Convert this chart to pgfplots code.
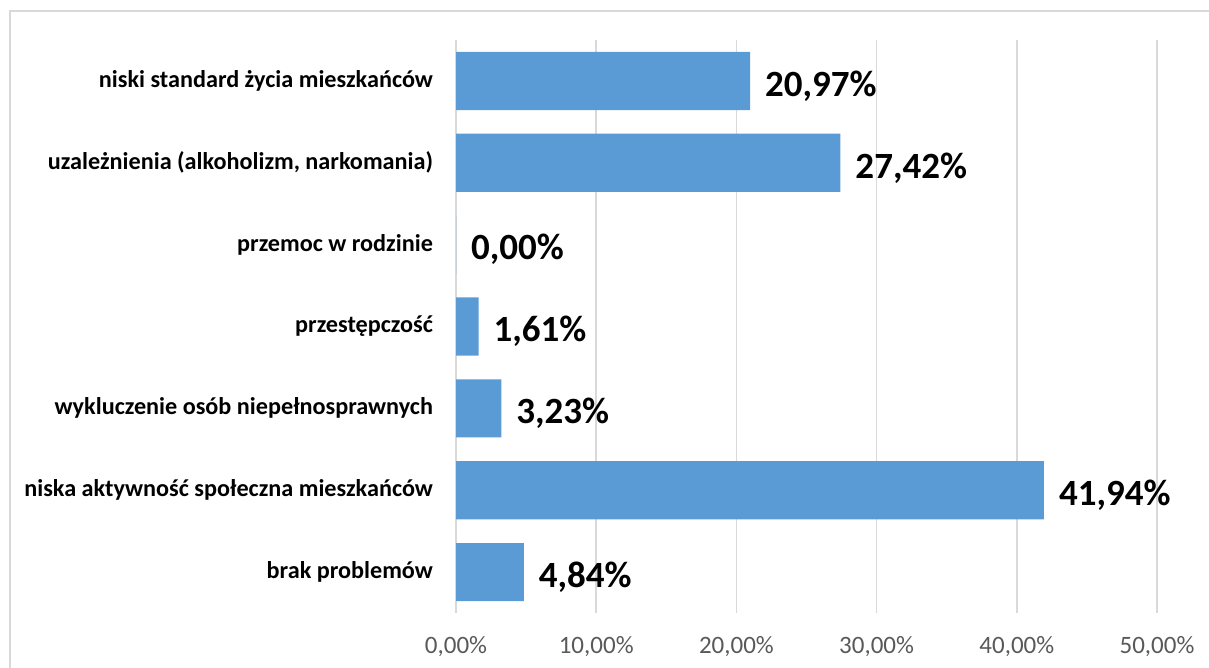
\documentclass[border=0pt]{standalone}
\usepackage{pgfplots}
\pgfplotsset{compat=1.18}
\usepackage{fontspec}
\setmainfont{Carlito}
\definecolor{barblue}{HTML}{5B9BD5}
\definecolor{gridgray}{HTML}{D9D9D9}
\definecolor{ticktext}{HTML}{595959}
\begin{document}
\begin{tikzpicture}
\useasboundingbox (0,0) rectangle (604.5pt,334pt);
\draw[gridgray, line width=0.8pt] (5pt,-5pt) -- (5pt,328.5pt) -- (610pt,328.5pt);
\begin{axis}[
  at={(228pt,27.5pt)}, anchor=south west,
  scale only axis, width=350.5pt, height=286.5pt,
  xbar, bar width=0.71,
  xmin=0, xmax=50,
  ymin=-0.5, ymax=6.5, y dir=reverse,
  xtick={0,10,20,30,40,50},
  ytick={0,1,2,3,4,5,6},
  yticklabels={niski standard życia mieszkańców, uzależnienia (alkoholizm{,} narkomania), przemoc w rodzinie, przestępczość, wykluczenie osób niepełnosprawnych, niska aktywność społeczna mieszkańców, brak problemów},
  xmajorgrids, grid style={gridgray, line width=0.8pt},
  axis line style={draw=none},
  major tick length=0pt,
  /pgf/number format/assume math mode=true,
  xticklabel={\pgfmathprintnumber[fixed, fixed zerofill, precision=2, use comma]{\tick}\%},
  xticklabel style={font=\fontsize{12.5}{15}\selectfont, text=ticktext, yshift=-8pt},
  yticklabel style={font=\bfseries\fontsize{12.1}{14}\selectfont, text=black, xshift=-8pt},
  nodes near coords={\pgfmathprintnumber[fixed, fixed zerofill, precision=2, use comma]{\pgfplotspointmeta}\%},
  nodes near coords style={font=\bfseries\fontsize{18.5}{22}\selectfont, anchor=west, xshift=4pt, yshift=-2.5pt, text=black},
  point meta=x,
  clip=false,
]
\addplot[fill=barblue, draw=none] coordinates {
(20.97,0) (27.42,1) (0.00,2) (1.61,3) (3.23,4) (41.94,5) (4.84,6)
};
\end{axis}
\end{tikzpicture}
\end{document}
